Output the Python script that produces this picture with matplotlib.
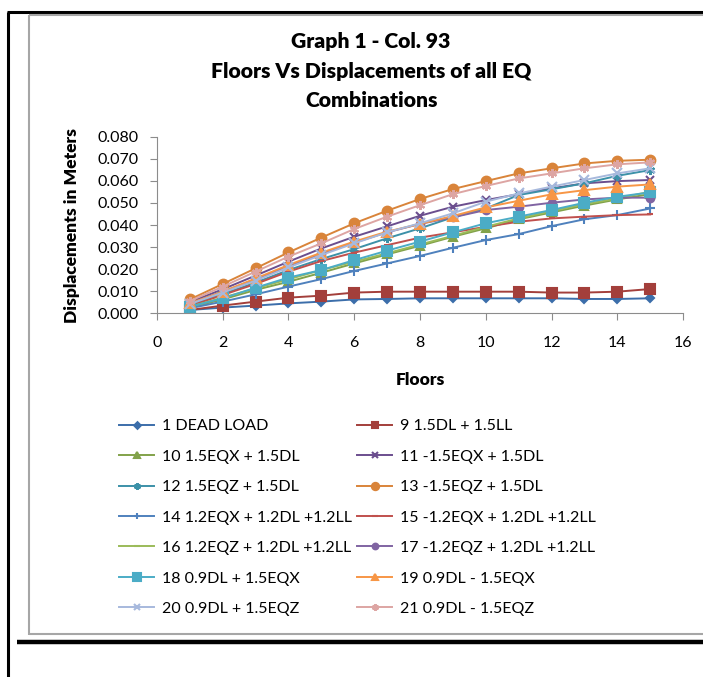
import matplotlib
matplotlib.use("Agg")
import matplotlib.pyplot as plt
from matplotlib.lines import Line2D

plt.rcParams['font.family'] = ['Lato', 'DejaVu Sans']

floors = list(range(1, 16))

# combination name -> displacement per floor (m)
dead_load = [0.0015, 0.0026, 0.0035, 0.0045, 0.0053, 0.0063, 0.0065, 0.0068, 0.0068, 0.0068, 0.0068, 0.0068, 0.0065, 0.0065, 0.0068]
c09 = [0.0015, 0.0035, 0.0053, 0.0071, 0.0080, 0.0094, 0.0098, 0.0098, 0.0098, 0.0098, 0.0098, 0.0094, 0.0094, 0.0098, 0.0110]
c10 = [0.0026, 0.0063, 0.0106, 0.0143, 0.0184, 0.0226, 0.0267, 0.0306, 0.0347, 0.0385, 0.0426, 0.0457, 0.0488, 0.0516, 0.0540]
c11 = [0.0051, 0.0109, 0.0171, 0.0234, 0.0294, 0.0347, 0.0394, 0.0442, 0.0483, 0.0513, 0.0540, 0.0566, 0.0589, 0.0599, 0.0604]
c12 = [0.0038, 0.0088, 0.0139, 0.0196, 0.0246, 0.0291, 0.0340, 0.0385, 0.0435, 0.0475, 0.0536, 0.0562, 0.0589, 0.0623, 0.0649]
c13 = [0.0063, 0.0133, 0.0204, 0.0276, 0.0343, 0.0408, 0.0465, 0.0518, 0.0563, 0.0599, 0.0634, 0.0657, 0.0679, 0.0691, 0.0696]
c14 = [0.0023, 0.0053, 0.0086, 0.0121, 0.0155, 0.0192, 0.0226, 0.0260, 0.0297, 0.0332, 0.0359, 0.0395, 0.0426, 0.0445, 0.0475]
c15 = [0.0033, 0.0083, 0.0133, 0.0189, 0.0237, 0.0275, 0.0309, 0.0343, 0.0367, 0.0392, 0.0415, 0.0430, 0.0438, 0.0445, 0.0448]
c16 = [0.0030, 0.0071, 0.0113, 0.0154, 0.0196, 0.0234, 0.0272, 0.0312, 0.0351, 0.0392, 0.0430, 0.0463, 0.0495, 0.0520, 0.0551]
c17 = [0.0045, 0.0098, 0.0154, 0.0214, 0.0269, 0.0320, 0.0367, 0.0405, 0.0435, 0.0468, 0.0483, 0.0501, 0.0516, 0.0524, 0.0524]
c18 = [0.0030, 0.0068, 0.0116, 0.0162, 0.0196, 0.0241, 0.0284, 0.0325, 0.0367, 0.0408, 0.0438, 0.0468, 0.0501, 0.0528, 0.0548]
c19 = [0.0045, 0.0098, 0.0158, 0.0219, 0.0275, 0.0325, 0.0370, 0.0405, 0.0441, 0.0480, 0.0510, 0.0539, 0.0558, 0.0574, 0.0584]
c20 = [0.0042, 0.0094, 0.0148, 0.0208, 0.0264, 0.0317, 0.0367, 0.0408, 0.0453, 0.0506, 0.0543, 0.0574, 0.0604, 0.0634, 0.0657]
c21 = [0.0056, 0.0121, 0.0189, 0.0257, 0.0317, 0.0382, 0.0438, 0.0490, 0.0540, 0.0577, 0.0611, 0.0634, 0.0657, 0.0675, 0.0684]

labels = ["1 DEAD LOAD", "9 1.5DL + 1.5LL", "10 1.5EQX + 1.5DL", "11 -1.5EQX + 1.5DL",
          "12 1.5EQZ + 1.5DL", "13 -1.5EQZ + 1.5DL", "14 1.2EQX + 1.2DL +1.2LL",
          "15 -1.2EQX + 1.2DL +1.2LL", "16 1.2EQZ + 1.2DL +1.2LL", "17 -1.2EQZ + 1.2DL +1.2LL",
          "18 0.9DL + 1.5EQX", "19 0.9DL - 1.5EQX", "20 0.9DL + 1.5EQZ", "21 0.9DL - 1.5EQZ"]
series = [dead_load, c09, c10, c11, c12, c13, c14, c15, c16, c17, c18, c19, c20, c21]

colors = ['#3C6EAA', '#A33F3B', '#82A24A', '#6B4E8E', '#3C91A8', '#D9843A', '#4F81BD',
          '#C0504D', '#9BBB59', '#8064A2', '#4BACC6', '#F79646', '#A7B9DD', '#DDA5A3']
markers = ['D', 's', '^', 'x', (6, 2, 0), 'o', '+', '_', '_', 'o', 's', '^', 'x', (6, 2, 0)]
msizes = [4.5, 6.5, 6, 6, 6.5, 7, 6.5, 5, 5, 5.5, 7, 6.5, 6.5, 6.5]

fig = plt.figure(figsize=(7.03, 6.77), dpi=100)
ax = fig.add_axes([0.2233, 0.5372, 0.7483, 0.2608])

handles = []
for y, lab, c, m, ms in zip(series, labels, colors, markers, msizes):
    h, = ax.plot(floors, y, color=c, marker=m, markersize=ms, linewidth=1.4,
                 markeredgewidth=1.5, label=lab)
    handles.append(h)

ax.set_xlim(0, 16)
ax.set_ylim(0, 0.08)
ax.set_xticks(range(0, 17, 2))
ax.set_yticks([i * 0.01 for i in range(9)])
ax.set_yticklabels(["%.3f" % (i * 0.01) for i in range(9)])
for s in ['top', 'right']:
    ax.spines[s].set_visible(False)
for s in ['left', 'bottom']:
    ax.spines[s].set_color('#8c8c8c')
ax.tick_params(colors='#8c8c8c', labelcolor='black', labelsize=11.5, length=5, direction='out')
ax.tick_params(axis='x', pad=11)
ax.tick_params(axis='y', pad=8)
ax.set_xlabel("Floors", fontsize=12.5, fontweight='heavy', labelpad=16)
ax.set_ylabel("Displacements in Meters", fontsize=12.5, fontweight='heavy', labelpad=13)

fig.text(0.528, 0.952, "Graph 1 - Col. 93\nFloors Vs Displacements of all EQ\nCombinations",
         ha='center', va='top', fontsize=15.2, fontweight='heavy', linespacing=1.63)

# legend laid out row by row like the original: two stacked legends
leg_kw = dict(loc='upper left', frameon=False, fontsize=11.5, handlelength=2.2,
              handletextpad=0.5, labelspacing=1.02, borderpad=0, borderaxespad=0)
left_idx = [0, 2, 4, 6, 8, 10, 12]
right_idx = [1, 3, 5, 7, 9, 11, 13]
leg1 = fig.legend([handles[i] for i in left_idx], [labels[i] for i in left_idx],
                  bbox_to_anchor=(119 / 703, 1 - 419 / 677), **leg_kw)
leg2 = fig.legend([handles[i] for i in right_idx], [labels[i] for i in right_idx],
                  bbox_to_anchor=(357 / 703, 1 - 419 / 677), **leg_kw)
for leg in (leg1, leg2):
    for lh in leg.legend_handles:
        lh.set_markersize(lh.get_markersize() * 0.75)

# page borders
W, H = 703.0, 677.0
def fline(x0, y0, x1, y1, color, lw):
    fig.add_artist(Line2D([x0 / W, x1 / W], [1 - y0 / H, 1 - y1 / H], color=color,
                          linewidth=lw, transform=fig.transFigure, solid_capstyle='butt'))

fline(8, 12, 8, 677, 'black', 2.2)
fline(7, 12, 703, 12, 'black', 2.2)
fline(29, 15, 703, 15, '#a6a6a6', 1.5)
fline(29, 14.5, 29, 634.5, '#a6a6a6', 1.5)
fline(29, 634, 703, 634, '#a6a6a6', 1.5)
fline(17, 642, 703, 642, 'black', 3.2)

fig.savefig("out.png", dpi=100)
